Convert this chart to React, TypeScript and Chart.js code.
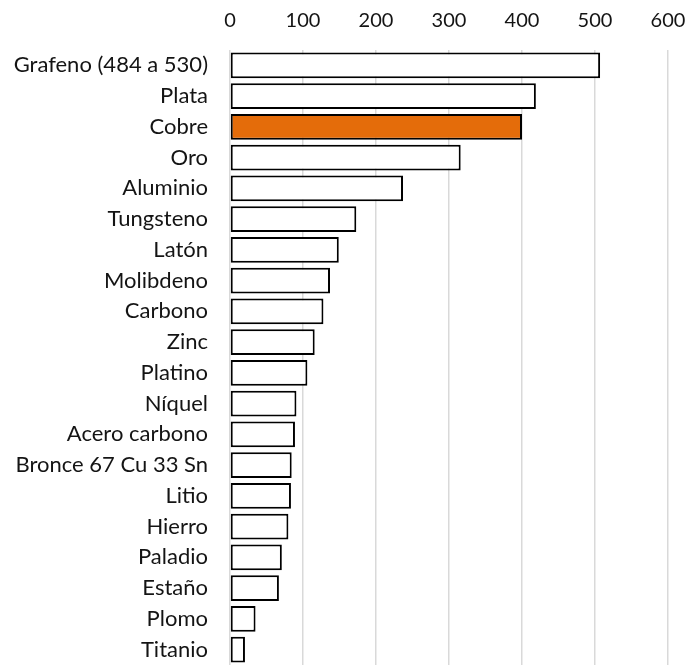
import { useEffect, useRef } from "react";
import { Chart, registerables } from "chart.js";

Chart.register(...registerables);

const categories = [
  "Grafeno (484 a 530)",
  "Plata",
  "Cobre",
  "Oro",
  "Aluminio",
  "Tungsteno",
  "Latón",
  "Molibdeno",
  "Carbono",
  "Zinc",
  "Platino",
  "Níquel",
  "Acero carbono",
  "Bronce 67 Cu 33 Sn",
  "Litio",
  "Hierro",
  "Paladio",
  "Estaño",
  "Plomo",
  "Titanio",
];

const values = [507, 419, 400, 316, 237, 173, 149, 137, 128, 116, 106, 91, 89, 84.5, 83.5, 80, 71, 67, 35, 20.5];

const highlighted = "Cobre";
const xMin = 0;
const xMax = 600;
const xStep = 100;

export default function App() {
  const ref = useRef<HTMLCanvasElement>(null);
  useEffect(() => {
    document.body.style.margin = "0";
    const color = "#141414";
    const chart = new Chart(ref.current!, {
      type: "bar",
      data: {
        labels: categories,
        datasets: [
          {
            data: values,
            backgroundColor: categories.map((c) => (c === highlighted ? "#E46C0A" : "#FFFFFF")),
            borderColor: "#000000",
            borderWidth: 2,
            borderSkipped: false,
            categoryPercentage: 1,
            barPercentage: 0.84,
          },
        ],
      },
      options: {
        indexAxis: "y",
        responsive: false,
        animation: false,
        layout: { autoPadding: false, padding: { left: 0, right: 20, top: 0, bottom: 0 } },
        plugins: { legend: { display: false }, tooltip: { enabled: false } },
        scales: {
          x: {
            position: "top",
            min: xMin,
            max: xMax,
            ticks: { stepSize: xStep, padding: 17, color, font: { family: "Lato, 'Open Sans', sans-serif", size: 20 } },
            grid: { color: "#d9d9d9", lineWidth: 1.5, drawTicks: false },
            border: { display: false },
            afterFit: (s: any) => {
              s.height = 50;
              s.paddingLeft = 0;
              s.paddingRight = 0;
            },
          },
          y: {
            ticks: { padding: 22, color, autoSkip: false, font: { family: "Lato, 'Open Sans', sans-serif", size: 22 } },
            grid: { display: false, drawTicks: false },
            border: { display: false },
            afterFit: (s: any) => {
              s.width = 230;
              s.paddingTop = 0;
              s.paddingBottom = 0;
            },
          },
        },
      },
    });
    return () => chart.destroy();
  }, []);
  return <canvas ref={ref} width={688} height={665} style={{ display: "block" }} />;
}
